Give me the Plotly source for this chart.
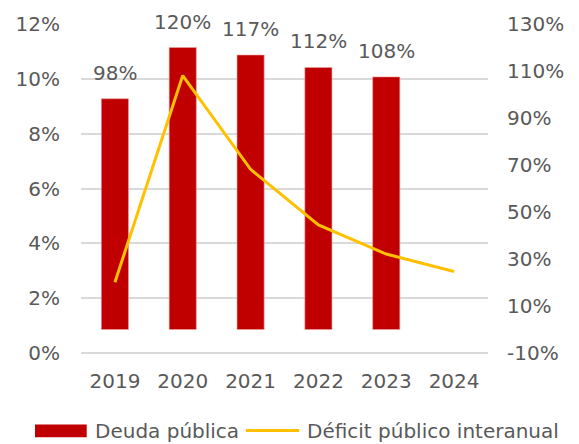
import plotly.graph_objects as go

# data
years = ["2019", "2020", "2021", "2022", "2023", "2024"]
deuda = [98.2, 120.0, 116.8, 111.5, 107.5]          # % del PIB (eje derecho)
deuda_labels = ["98%", "120%", "117%", "112%", "108%"]
deficit = [2.58, 10.12, 6.7, 4.67, 3.61, 2.97]      # % (eje izquierdo)

right_ticks = [-10, 10, 30, 50, 70, 90, 110, 130]
right_ticktext = ["-10%", "10%", "30%", "50%", "70%", "90%", "110%", "130%"]

RED = "#C00000"
GOLD = "#FFC000"
GREY_TXT = "#595959"
GRID = "#D9D9D9"
FONT = "DejaVu Sans"

fig = go.Figure()

fig.add_trace(go.Bar(
    x=years[:len(deuda)], y=deuda, name="Deuda pública",
    marker=dict(color=RED, line=dict(color="#E8A0A0", width=0.6)),
    width=0.4, yaxis="y", xaxis="x", showlegend=False,
))
fig.add_trace(go.Scatter(
    x=years, y=deficit, name="Déficit público interanual",
    mode="lines", line=dict(color=GOLD, width=3),
    yaxis="y2", xaxis="x", showlegend=False,
))

# value labels above the bars (category axis -> use the category index)
for i, (v, lab) in enumerate(zip(deuda, deuda_labels)):
    fig.add_annotation(x=i, y=v, xref="x", yref="y", text=lab,
                       showarrow=False, yanchor="bottom", yshift=12,
                       font=dict(family=FONT, size=20, color=GREY_TXT))

# hand-made legend (wide bar swatch like the original)
fig.add_shape(type="rect", xref="paper", yref="paper",
              x0=-0.113, x1=0.014, y0=-0.256, y1=-0.2175,
              fillcolor=RED, line=dict(width=0))
fig.add_annotation(x=0.0295, y=-0.2357, xref="paper", yref="paper",
                   text="Deuda pública", showarrow=False,
                   xanchor="left", yanchor="middle",
                   font=dict(family=FONT, size=20, color=GREY_TXT))
fig.add_shape(type="line", xref="paper", yref="paper",
              x0=0.405, x1=0.536, y0=-0.2357, y1=-0.2357,
              line=dict(color=GOLD, width=3))
fig.add_annotation(x=0.550, y=-0.2357, xref="paper", yref="paper",
                   text="Déficit público interanual", showarrow=False,
                   xanchor="left", yanchor="middle",
                   font=dict(family=FONT, size=20, color=GREY_TXT))

fig.update_layout(
    width=579, height=444,
    margin=dict(l=81, r=91, t=22, b=91),
    paper_bgcolor="white", plot_bgcolor="white",
    font=dict(family=FONT, size=20, color=GREY_TXT),
    bargap=0.6,
    xaxis=dict(type="category", categoryorder="array", categoryarray=years,
               range=[-0.5, len(years) - 0.5], autorange=False,
               showgrid=False, showline=False, ticks="",
               ticklabelstandoff=14),
    yaxis=dict(side="right", range=[-10, 130], tickvals=right_ticks,
               ticktext=right_ticktext, showgrid=False, zeroline=False,
               showline=False, ticks="", ticklabelstandoff=18),
    yaxis2=dict(overlaying="y", side="left", range=[0, 12], dtick=2,
                ticksuffix="%", showgrid=True, gridcolor=GRID,
                gridwidth=2, zeroline=True, zerolinecolor=GRID,
                zerolinewidth=2, showline=False, ticks="",
                ticklabelstandoff=20),
)

fig.write_html("out.html", config={"displayModeBar": False},
               post_script="document.body.style.margin='0';")
